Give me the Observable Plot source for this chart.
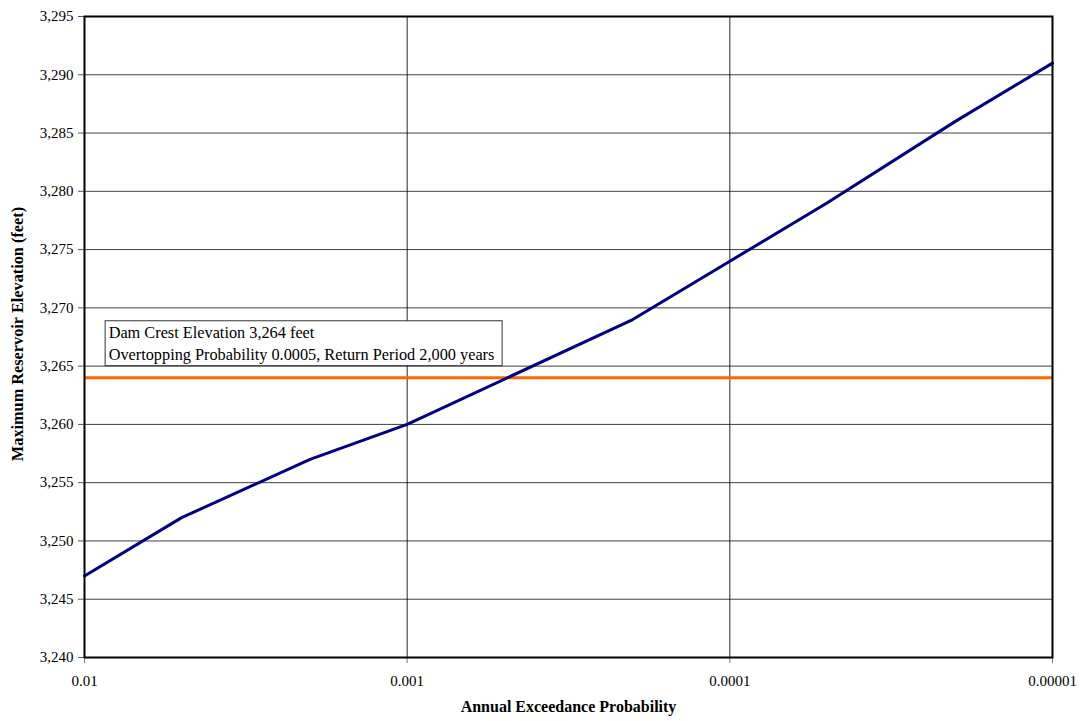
<!DOCTYPE html>
<html>
<head>
<meta charset="utf-8">
<script src="https://cdn.jsdelivr.net/npm/d3@7"></script>
<script src="https://cdn.jsdelivr.net/npm/@observablehq/plot@0.6"></script>
<style>
  html, body { margin: 0; padding: 0; background: #fff; }
  #chart { width: 1081px; height: 721px; }
  svg, svg text { font-family: "Liberation Serif", "Times New Roman", serif !important; }
</style>
</head>
<body>
<div id="chart"></div>
<script>
// Data
const probabilities = [0.01, 0.005, 0.002, 0.001, 0.0002, 0.0001, 0.00005, 0.00002, 0.00001];
const elevations    = [3247, 3252, 3257, 3260, 3269, 3274, 3279, 3286, 3291];
const crestElevation = 3264;
const xTicks = [0.01, 0.001, 0.0001, 0.00001];
const yTicks = [3240, 3245, 3250, 3255, 3260, 3265, 3270, 3275, 3280, 3285, 3290, 3295];
const annotationLines = ["Dam Crest Elevation 3,264 feet", "Overtopping Probability 0.0005, Return Period 2,000 years"];
const annotationBox = [{x1: 0.0086, x2: 0.000506, y1: 3268.85, y2: 3265.0}];

const curve = probabilities.map((p, i) => ({p, e: elevations[i]}));
const fmtX = d => d.toString();
const fmtY = d3.format(",");
const serif = '"Liberation Serif", "Times New Roman", serif';

const W = 1081, H = 721;
const chart = Plot.plot({
  width: W,
  height: H,
  marginLeft: 84,
  marginRight: 29,
  marginTop: 16,
  marginBottom: 64,
  style: {fontFamily: serif, fontSize: "14px", background: "#fff", color: "#000"},
  x: {type: "log", domain: [0.01, 0.00001], ticks: xTicks, tickFormat: fmtX, label: null},
  y: {domain: [3240, 3295], ticks: yTicks, tickFormat: fmtY, label: null},
  marks: [
    Plot.gridX(xTicks, {stroke: "#000", strokeOpacity: 0.85, strokeWidth: 1}),
    Plot.gridY(yTicks, {stroke: "#000", strokeOpacity: 0.75, strokeWidth: 1}),
    Plot.axisX(xTicks, {tickFormat: fmtX, tickSize: 6, tickPadding: 12, fontSize: 15, fontFamily: serif, stroke: "#777"}),
    Plot.axisY(yTicks, {tickFormat: fmtY, tickSize: 6, tickPadding: 5, fontSize: 15, fontFamily: serif, stroke: "#555"}),
    Plot.ruleY([crestElevation], {stroke: "#FF6600", strokeWidth: 3}),
    Plot.line(curve, {x: "p", y: "e", stroke: "#000080", strokeWidth: 3}),
    Plot.frame({stroke: "#000", strokeWidth: 2}),
    Plot.rect(annotationBox, {x1: "x1", x2: "x2", y1: "y1", y2: "y2", fill: "#fff", stroke: "#333", strokeWidth: 1}),
    Plot.text([annotationLines.join("\n")], {x: annotationBox[0].x1, y: annotationBox[0].y1, text: d => d, textAnchor: "start", lineAnchor: "top", dx: 3, dy: 2, fontSize: 16.3, lineHeight: 1.3, fontFamily: serif, fill: "#000"}),
    Plot.text(["Annual Exceedance Probability"], {frameAnchor: "bottom", text: d => d, textAnchor: "middle", dy: 54, fontWeight: "bold", fontSize: 16, fontFamily: serif, fill: "#000"}),
    Plot.text(["Maximum Reservoir Elevation (feet)"], {frameAnchor: "left", text: d => d, textAnchor: "middle", rotate: -90, dx: -67, dy: -3, fontWeight: "bold", fontSize: 16.3, fontFamily: serif, fill: "#000"})
  ]
});
document.getElementById("chart").appendChild(chart);
</script>
</body>
</html>
